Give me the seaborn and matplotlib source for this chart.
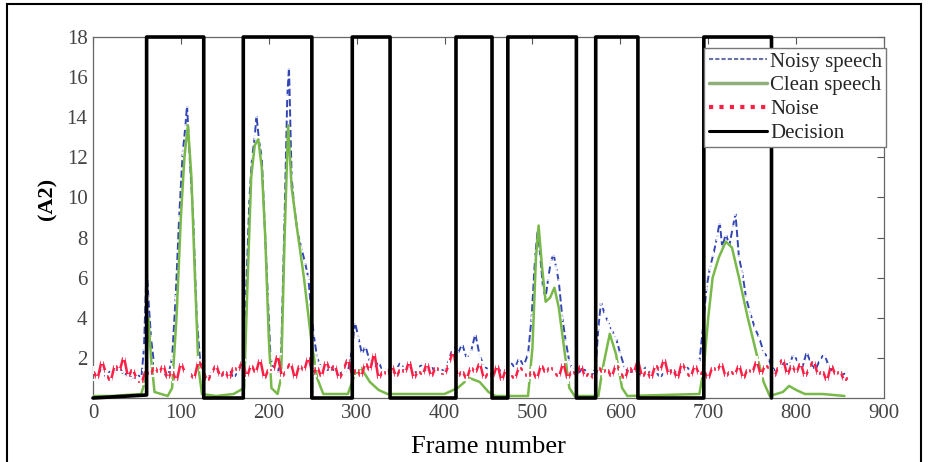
import numpy as np
import pandas as pd
import matplotlib
matplotlib.use("Agg")
import matplotlib.pyplot as plt
from matplotlib.lines import Line2D
from matplotlib.patches import Rectangle
import seaborn as sns

# ---------------- data ----------------
clean_frames = [0, 20, 55, 60, 63, 66, 70, 85, 90, 95, 100, 104, 108, 112, 116, 120, 124, 140, 160,
                172, 176, 180, 184, 188, 192, 196, 200, 203, 210, 214, 218, 222, 226, 232, 240, 248,
                255, 262, 290, 298, 305, 315, 325, 335, 400, 415, 428, 440, 450, 458, 495, 500, 504,
                507, 511, 515, 520, 525, 530, 536, 542, 548, 575, 580, 588, 595, 602, 608, 690, 695,
                700, 705, 712, 720, 727, 735, 745, 755, 763, 770, 785, 792, 800, 810, 830, 855]
clean_values = [0.1, 0.1, 0.2, 1.0, 4.0, 2.0, 0.3, 0.1, 0.5, 4.0, 9.0, 12.0, 13.6, 11.0, 6.0, 1.5, 0.2,
                0.1, 0.2, 0.5, 6.0, 11.0, 12.6, 12.9, 11.5, 8.0, 3.0, 0.5, 0.2, 1.0, 8.0, 13.6, 10.5,
                8.5, 6.0, 3.0, 1.0, 0.2, 0.2, 1.2, 1.5, 0.8, 0.4, 0.2, 0.2, 0.5, 1.0, 0.8, 0.3, 0.1,
                0.1, 2.5, 7.0, 8.6, 6.5, 4.8, 5.0, 5.5, 4.5, 2.5, 0.5, 0.1, 0.1, 1.5, 3.2, 2.2, 0.5,
                0.1, 0.2, 1.5, 4.0, 6.0, 7.0, 7.8, 7.5, 6.0, 4.0, 2.2, 0.8, 0.1, 0.3, 0.6, 0.4, 0.2,
                0.2, 0.1]

noisy_frames = [0, 5, 10, 15, 20, 25, 30, 35, 40, 45, 50, 55, 58, 61, 63, 66, 70, 75, 80, 85, 90, 94,
                98, 102, 105, 107, 110, 114, 118, 122, 126, 130, 135, 140, 145, 150, 155, 160, 165,
                170, 174, 178, 181, 184, 186, 189, 192, 195, 199, 202, 206, 210, 214, 218, 221, 223,
                226, 229, 233, 237, 241, 245, 248, 251, 255, 260, 265, 270, 275, 280, 285, 290, 295,
                298, 302, 306, 310, 315, 320, 325, 330, 335, 340, 345, 350, 355, 360, 365, 370, 375,
                380, 385, 390, 395, 400, 405, 410, 415, 420, 425, 430, 435, 440, 445, 450, 455, 460,
                465, 470, 475, 480, 485, 490, 495, 499, 503, 506, 509, 512, 515, 518, 521, 524, 527,
                530, 534, 538, 542, 547, 552, 557, 562, 567, 572, 575, 578, 582, 586, 590, 595, 600,
                605, 610, 615, 620, 625, 630, 635, 640, 645, 650, 655, 660, 665, 670, 675, 680, 685,
                690, 694, 698, 702, 706, 710, 713, 716, 720, 724, 728, 731, 735, 739, 743, 748, 753,
                758, 763, 768, 772, 777, 782, 787, 792, 797, 802, 807, 812, 817, 822, 827, 832, 837,
                842, 847, 852, 857, 862]
noisy_values = [1.3, 1.1, 1.5, 1.0, 1.4, 1.2, 1.6, 1.1, 1.3, 0.9, 1.2, 1.0, 2.5, 6.6, 5.0, 3.0, 1.5,
                1.2, 1.3, 1.0, 2.0, 5.0, 9.0, 12.2, 13.5, 14.6, 12.0, 9.0, 4.0, 1.8, 1.2, 1.0, 1.3,
                1.5, 1.1, 1.2, 1.4, 1.0, 1.3, 1.6, 5.0, 10.0, 12.0, 13.0, 14.1, 12.8, 12.0, 9.0, 5.0,
                2.0, 1.3, 1.2, 2.0, 9.0, 15.0, 16.5, 11.0, 9.5, 8.2, 7.5, 6.8, 6.0, 4.5, 3.2, 2.0,
                1.5, 1.2, 1.6, 1.3, 1.1, 1.5, 1.3, 2.5, 3.8, 3.0, 2.2, 2.6, 1.8, 1.5, 1.8, 1.3, 1.5,
                1.2, 1.4, 1.8, 1.3, 1.6, 1.2, 1.5, 1.7, 1.3, 1.6, 1.2, 1.5, 1.3, 1.9, 2.6, 2.2, 2.7,
                2.0, 2.3, 3.2, 2.1, 1.6, 1.4, 1.2, 1.5, 1.3, 1.6, 1.8, 1.5, 2.0, 1.6, 2.2, 4.0, 7.0,
                8.4, 7.0, 5.5, 5.0, 6.0, 6.8, 7.2, 6.5, 5.8, 4.0, 2.8, 1.8, 1.3, 1.2, 1.5, 1.3, 1.1,
                1.5, 3.5, 4.8, 4.2, 3.8, 3.4, 3.0, 2.2, 1.5, 1.2, 1.4, 1.1, 1.3, 1.6, 1.2, 1.4, 1.0,
                1.3, 1.5, 1.1, 1.4, 1.2, 1.6, 1.3, 1.5, 1.8, 3.5, 5.5, 6.5, 7.2, 8.0, 8.8, 7.5, 8.2,
                7.6, 8.5, 9.2, 7.0, 6.2, 5.0, 4.2, 3.5, 3.0, 2.3, 2.0, 1.6, 1.3, 1.5, 1.8, 1.6, 2.2,
                1.8, 1.5, 2.3, 1.7, 1.4, 1.9, 2.2, 1.6, 1.3, 1.5, 1.1, 1.3, 1.0]

noise_frames = list(range(0, 865, 5))
noise_values = [1.4, 0.9, 1.9, 1.2, 0.8, 1.7, 1.3, 2.1, 1.0, 1.5,
                0.9, 0.7, 1.4, 1.1, 1.6, 1.2, 1.7, 0.9, 1.4, 0.8,
                1.8, 1.2, 1.3, 0.9, 1.9, 1.4, 0.8, 1.2, 1.7, 1.0,
                1.4, 0.9, 1.6, 1.3, 1.9, 1.0, 1.7, 1.2, 2.0, 0.9,
                1.5, 1.3, 2.2, 1.0, 1.4, 1.8, 0.9, 1.7, 1.3, 2.1,
                1.1, 1.6, 1.0, 1.9, 1.3, 1.7, 0.9, 1.4, 2.0, 1.1,
                1.5, 1.0, 1.8, 1.3, 2.3, 0.9, 1.4, 1.1, 1.7, 1.0,
                1.5, 1.2, 1.9, 0.9, 1.4, 1.1, 1.8, 1.0, 1.6, 1.3,
                1.1, 1.7, 2.4, 1.0, 1.4, 0.9, 1.6, 1.2, 1.8, 0.9,
                1.3, 1.0, 1.7, 0.8, 1.5, 1.2, 0.9, 1.6, 1.3, 1.0,
                1.4, 0.9, 1.7, 1.2, 1.6, 1.3, 1.0, 1.8, 0.9, 1.4,
                1.1, 1.7, 1.0, 1.3, 0.9, 1.6, 1.2, 1.5, 1.0, 1.7,
                1.3, 0.9, 1.6, 1.2, 1.9, 1.0, 1.4, 0.9, 1.7, 1.3,
                2.0, 1.1, 1.5, 0.9, 1.8, 1.3, 1.0, 1.7, 1.1, 1.4,
                0.9, 1.6, 1.3, 1.8, 1.0, 1.4, 1.1, 1.7, 0.9, 1.5,
                1.2, 1.9, 1.1, 1.7, 1.4, 1.0, 1.6, 2.0, 1.1, 1.7,
                1.2, 1.8, 1.0, 1.5, 1.9, 1.1, 1.4, 0.8, 1.7, 1.1,
                1.4, 0.8, 1.1]

decision_frames = [0, 61, 61, 126, 126, 171, 171, 249, 249, 295, 295, 338, 338, 413, 413, 454, 454,
                   472, 472, 550, 550, 572, 572, 620, 620, 695, 695, 772, 772]
decision_values = [0, 0.15, 18, 18, 0, 0, 18, 18, 0, 0, 18, 18, 0, 0, 18, 18, 0, 0, 18, 18, 0, 0,
                   18, 18, 0, 0, 18, 18, 0]

x_ticks = [0, 100, 200, 300, 400, 500, 600, 700, 800, 900]
y_ticks = [2, 4, 6, 8, 10, 12, 14, 16, 18]
legend_labels = ["Noisy speech", "Clean speech", "Noise", "Decision"]

# ---------------- style ----------------
sns.set_theme(style="white")
plt.rcParams["font.family"] = ["Liberation Serif", "DejaVu Serif"]

C_NOISY = "#3446b4"
C_CLEAN = "#78b94a"
C_NOISE = "#ff1f45"
C_DEC = "black"

fig = plt.figure(figsize=(9.31, 4.62), dpi=100)
ax = fig.add_axes([93 / 931, 1 - 398 / 462, (884 - 93) / 931, (398 - 37) / 462])

sns.lineplot(x=noisy_frames, y=noisy_values, ax=ax, estimator=None, sort=False,
             color=C_NOISY, lw=1.4, ls="--", marker="+", markersize=5,
             markeredgewidth=1.1, zorder=2)
sns.lineplot(x=clean_frames, y=clean_values, ax=ax, estimator=None, sort=False,
             color=C_CLEAN, lw=1.8, zorder=3)
sns.lineplot(x=noise_frames, y=noise_values, ax=ax, estimator=None, sort=False,
             color=C_NOISE, lw=1.8, marker="+", markersize=6, markeredgewidth=1.6, zorder=4)
sns.lineplot(x=decision_frames, y=decision_values, ax=ax, estimator=None, sort=False,
             color=C_DEC, lw=2.6, zorder=6, clip_on=False)

ax.set_xlim(0, 900)
ax.set_ylim(0, 18)
ax.set_xticks(x_ticks)
ax.set_yticks(y_ticks)
ax.set_xticklabels([str(v) for v in x_ticks])
ax.set_yticklabels([str(v) for v in y_ticks])
ax.tick_params(axis="both", direction="in", length=5, width=0.8, colors="#555555",
               labelsize=15, top=True, right=True, pad=4)
for lab in ax.get_xticklabels() + ax.get_yticklabels():
    lab.set_color("#444444")
for sp in ax.spines.values():
    sp.set_color("#666666")
    sp.set_linewidth(0.9)
ax.set_xlabel("")
ax.set_ylabel("")
ax.grid(False)

fig.text(488 / 931, 1 - 447 / 462, "Frame number", ha="center", va="center", fontsize=19,
         color="black")
fig.text(47 / 931, 1 - 199 / 462, "(A2)", ha="center", va="center", rotation=90,
         fontsize=16, fontweight="bold", color="black")

handles = [
    Line2D([0], [0], color="#6a72a8", lw=1.5, ls=(0, (2, 1))),
    Line2D([0], [0], color="#8fae78", lw=2.5),
    Line2D([0], [0], color=C_NOISE, lw=3, ls=(0, (1, 1.5))),
    Line2D([0], [0], color="black", lw=2.2),
]
leg = ax.legend(handles, legend_labels, loc="upper right", bbox_to_anchor=(1.003, 0.97),
                borderaxespad=0, fontsize=15, frameon=True, fancybox=False,
                handlelength=2.8, handletextpad=0.15, labelspacing=0.2, borderpad=0.2)
leg.get_frame().set_edgecolor("#777777")
leg.get_frame().set_linewidth(1.0)
leg.get_frame().set_alpha(1.0)
leg.set_zorder(10)

# outer frame of the figure
fig.patches.append(Rectangle((7 / 931, -0.02), (921 - 7) / 931, 1 - 4 / 462 + 0.02,
                             transform=fig.transFigure, fill=False, edgecolor="black",
                             lw=1.5, zorder=0))

fig.savefig("out.png", dpi=100)
